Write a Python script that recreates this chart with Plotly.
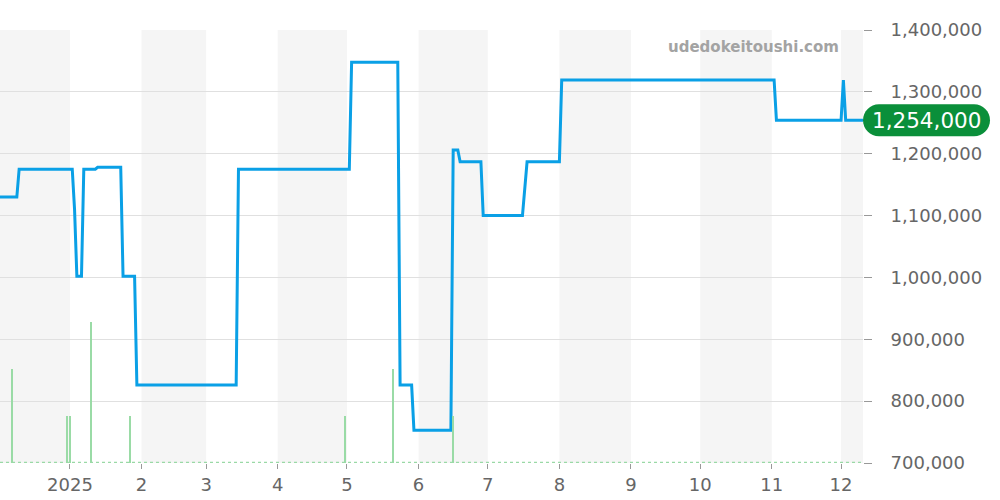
import plotly.graph_objects as go

# Price line (date, price in JPY)
price_dates = [
    "2024-12-01", "2024-12-09", "2024-12-10", "2025-01-02", "2025-01-03", "2025-01-04",
    "2025-01-06", "2025-01-07", "2025-01-12", "2025-01-13", "2025-01-23", "2025-01-24",
    "2025-01-29", "2025-01-30", "2025-03-14", "2025-03-15", "2025-05-02", "2025-05-03",
    "2025-05-23", "2025-05-24", "2025-05-29", "2025-05-30", "2025-06-15", "2025-06-16",
    "2025-06-18", "2025-06-19", "2025-06-28", "2025-06-29", "2025-07-16", "2025-07-18",
    "2025-08-01", "2025-08-02", "2025-11-02", "2025-11-03", "2025-12-01", "2025-12-02",
    "2025-12-03", "2025-12-11",
]
price_values = [
    1130000, 1130000, 1175000, 1175000, 1110000, 1002000,
    1002000, 1175000, 1175000, 1178000, 1178000, 1002000,
    1002000, 826000, 826000, 1175000, 1175000, 1348000,
    1348000, 826000, 826000, 753000, 753000, 1206000,
    1206000, 1187000, 1187000, 1100000, 1100000, 1187000,
    1187000, 1319000, 1319000, 1254000, 1254000, 1319000,
    1254000, 1254000,
]

# Volume bars (date, count)
vol_dates = ["2024-12-07", "2024-12-31", "2025-01-01", "2025-01-10", "2025-01-27",
             "2025-04-30", "2025-05-21", "2025-06-16"]
vol_counts = [2, 1, 1, 3, 1, 1, 2, 1]

# X ticks
tick_dates = ["2025-01-01", "2025-02-01", "2025-03-01", "2025-04-01", "2025-05-01",
              "2025-06-01", "2025-07-01", "2025-08-01", "2025-09-01", "2025-10-01",
              "2025-11-01", "2025-12-01"]
tick_labels = ["2025", "2", "3", "4", "5", "6", "7", "8", "9", "10", "11", "12"]

y_ticks = [700000, 800000, 900000, 1000000, 1100000, 1200000, 1300000, 1400000]

last_price = 1254000
x_start = "2024-12-01 17:00"
x_end = "2025-12-10 12:00"

fig = go.Figure()

fig.add_trace(go.Bar(
    x=vol_dates, y=vol_counts, yaxis="y2",
    marker=dict(color="#9adba6", line=dict(width=0)),
    width=0.55 * 86400000, showlegend=False, hoverinfo="skip",
))

fig.add_trace(go.Scatter(
    x=price_dates, y=price_values, mode="lines",
    line=dict(color="#0aa0e6", width=3),
    showlegend=False,
))

# Alternating month shading
bounds = [x_start] + tick_dates + [x_end]
shapes = []
for i in range(len(bounds) - 1):
    if i % 2 == 0:
        shapes.append(dict(type="rect", xref="x", yref="paper",
                           x0=bounds[i], x1=bounds[i + 1], y0=0, y1=1,
                           fillcolor="#f5f5f5", line=dict(width=0), layer="below"))

# dotted baseline for volumes
shapes.append(dict(type="line", xref="paper", yref="y2", x0=0, x1=1, y0=0.01, y1=0.01,
                   line=dict(color="#9ad9a6", width=1.5, dash="dot"), layer="above"))

# last price pill
r = 16
w = 127
k = 0.5523 * r
path = (f"M {r},{-r} L {w - r},{-r} C {w - r + k},{-r} {w},{-k} {w},0 "
        f"C {w},{k} {w - r + k},{r} {w - r},{r} L {r},{r} "
        f"C {r - k},{r} 0,{k} 0,0 C 0,{-k} {r - k},{-r} {r},{-r} Z")
shapes.append(dict(type="path", xref="paper", yref="y", xsizemode="pixel", ysizemode="pixel",
                   xanchor=1, yanchor=last_price, path=path,
                   fillcolor="#0a8f3a", line=dict(width=0), layer="above"))

fig.update_layout(
    width=1000, height=500,
    margin=dict(l=0, r=137, t=30, b=37),
    plot_bgcolor="white", paper_bgcolor="white",
    shapes=shapes,
    bargap=0,
    font=dict(family="DejaVu Sans", color="#666666", size=18),
    xaxis=dict(
        type="date", range=[x_start, x_end],
        tickvals=tick_dates, ticktext=tick_labels,
        ticks="outside", ticklen=5, tickcolor="#999999",
        showgrid=False, zeroline=False, showline=False,
        tickfont=dict(size=18, color="#666666"),
    ),
    yaxis=dict(
        side="right", range=[700000, 1400000], tickvals=y_ticks,
        tickformat=",d", ticks="outside", ticklen=8, tickcolor="#999999",
        ticklabelstandoff=15,
        showgrid=True, gridcolor="#e0e0e0", gridwidth=1, zeroline=False,
        tickfont=dict(size=18, color="#666666"),
    ),
    yaxis2=dict(overlaying="y", range=[0, 9.21], visible=False),
    annotations=[
        dict(xref="paper", yref="paper", x=0.974, y=0.96, xanchor="right", yanchor="middle",
             text="<b>udedokeitoushi.com</b>", showarrow=False,
             font=dict(size=15, color="#a3a3a3", family="DejaVu Sans")),
        dict(xref="paper", yref="y", x=1, xshift=63.5, y=last_price,
             xanchor="center", yanchor="middle",
             text=f"{last_price:,}", showarrow=False,
             font=dict(size=21.5, color="white", family="DejaVu Sans")),
    ],
)

fig.write_html("out.html", config={"displayModeBar": False},
               post_script="document.body.style.margin='0';")
